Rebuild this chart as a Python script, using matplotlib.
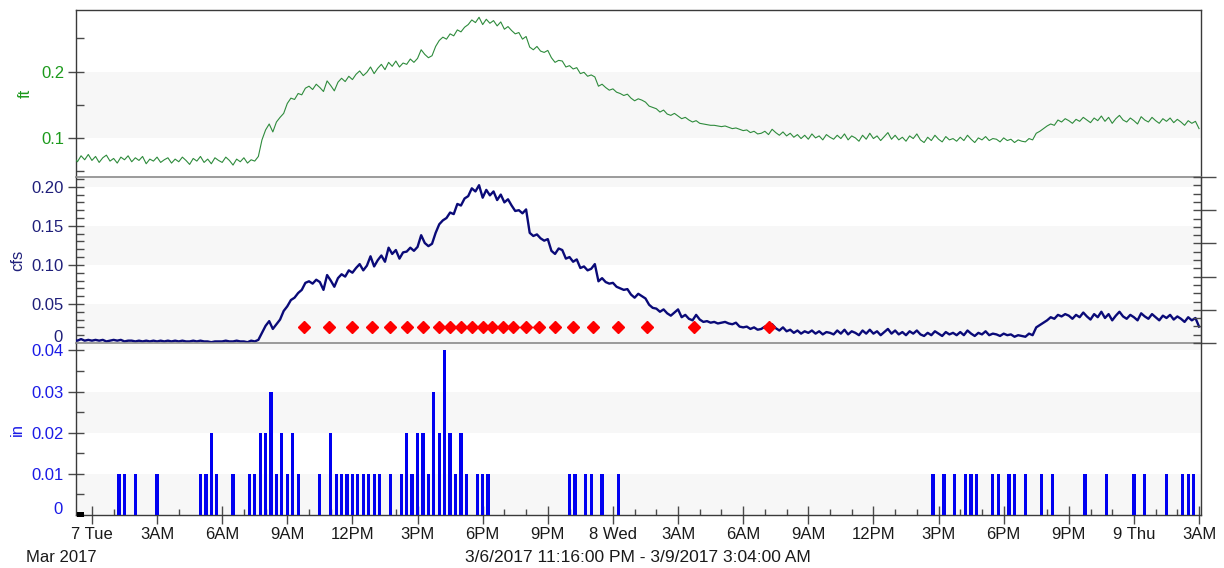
import matplotlib
matplotlib.use("Agg")
import matplotlib.pyplot as plt
import matplotlib.dates as mdates
from matplotlib.ticker import FixedLocator, MultipleLocator, FuncFormatter, NullFormatter
from matplotlib.patches import Rectangle
import pandas as pd

plt.rcParams['font.family'] = ['Liberation Sans', 'DejaVu Sans']
plt.rcParams['font.size'] = 12

# ---- data -------------------------------------------------------------
record_start = "2017-03-06 23:10"      # 10-minute record
view_start = "2017-03-06 23:16"
view_end = "2017-03-09 03:04"

# stage, one row per two hours (first row: 23:10-23:50)
stage_ft = [
    0.071, 0.064, 0.073, 0.067, 0.075,
    0.066, 0.072, 0.063, 0.070, 0.074, 0.065, 0.069, 0.062, 0.071, 0.067, 0.073, 0.064,
    0.070, 0.066, 0.072, 0.061, 0.068, 0.065, 0.071, 0.063, 0.067, 0.070, 0.062, 0.068,
    0.064, 0.071, 0.066, 0.060, 0.069, 0.065, 0.072, 0.063, 0.068, 0.061, 0.070, 0.066,
    0.063, 0.071, 0.066, 0.059, 0.068, 0.064, 0.070, 0.062, 0.067, 0.065, 0.072, 0.097,
    0.112, 0.121, 0.109, 0.124, 0.131, 0.137, 0.152, 0.160, 0.158, 0.167, 0.165, 0.175,
    0.178, 0.173, 0.181, 0.176, 0.170, 0.186, 0.179, 0.171, 0.184, 0.190, 0.185, 0.193,
    0.188, 0.196, 0.201, 0.194, 0.199, 0.207, 0.197, 0.205, 0.211, 0.203, 0.214, 0.208,
    0.216, 0.207, 0.213, 0.211, 0.219, 0.214, 0.220, 0.233, 0.226, 0.221, 0.224, 0.238,
    0.247, 0.252, 0.249, 0.257, 0.254, 0.263, 0.260, 0.267, 0.271, 0.278, 0.274, 0.282,
    0.271, 0.279, 0.273, 0.277, 0.269, 0.275, 0.264, 0.268, 0.262, 0.257, 0.259, 0.249,
    0.253, 0.237, 0.233, 0.238, 0.231, 0.229, 0.232, 0.221, 0.214, 0.217, 0.216, 0.207,
    0.209, 0.204, 0.206, 0.197, 0.199, 0.193, 0.195, 0.192, 0.178, 0.181, 0.176, 0.172,
    0.174, 0.169, 0.167, 0.164, 0.166, 0.160, 0.156, 0.159, 0.157, 0.154, 0.148, 0.146,
    0.144, 0.139, 0.142, 0.136, 0.134, 0.137, 0.133, 0.129, 0.131, 0.127, 0.124, 0.126,
    0.122, 0.121, 0.120, 0.119, 0.119, 0.118, 0.117, 0.118, 0.116, 0.114, 0.115, 0.113,
    0.111, 0.112, 0.108, 0.110, 0.106, 0.107, 0.110, 0.105, 0.113, 0.108, 0.104, 0.109,
    0.103, 0.107, 0.101, 0.105, 0.099, 0.104, 0.098, 0.106, 0.100, 0.103, 0.097, 0.105,
    0.101, 0.098, 0.104, 0.099, 0.106, 0.097, 0.103, 0.100, 0.095, 0.104, 0.098, 0.107,
    0.099, 0.103, 0.096, 0.102, 0.108, 0.098, 0.104, 0.097, 0.101, 0.095, 0.103, 0.099,
    0.106, 0.097, 0.093, 0.101, 0.096, 0.104, 0.098, 0.094, 0.102, 0.097, 0.099, 0.095,
    0.101, 0.096, 0.104, 0.098, 0.093, 0.100, 0.097, 0.102, 0.096, 0.099, 0.098, 0.094,
    0.100, 0.096, 0.098, 0.093, 0.097, 0.095, 0.094, 0.099, 0.097, 0.107, 0.110, 0.114,
    0.118, 0.121, 0.119, 0.127, 0.124, 0.129, 0.126, 0.122, 0.128, 0.125, 0.131, 0.127,
    0.123, 0.130, 0.126, 0.133, 0.125, 0.131, 0.122, 0.129, 0.134, 0.127, 0.124, 0.130,
    0.126, 0.121, 0.132, 0.127, 0.124, 0.131, 0.126, 0.122, 0.129, 0.125, 0.130, 0.123,
    0.128, 0.124, 0.119, 0.126, 0.122, 0.125, 0.114,
]

# discharge on the same 10-minute steps
discharge_cfs = [
    0.004, 0.003, 0.005, 0.003, 0.004,
    0.003, 0.004, 0.003, 0.004, 0.002, 0.003, 0.004, 0.003, 0.004, 0.002, 0.003, 0.003,
    0.002, 0.003, 0.002, 0.003, 0.002, 0.003, 0.002, 0.003, 0.002, 0.003, 0.002, 0.003,
    0.002, 0.003, 0.002, 0.002, 0.003, 0.002, 0.003, 0.002, 0.002, 0.001, 0.002, 0.002,
    0.002, 0.003, 0.002, 0.002, 0.003, 0.002, 0.002, 0.001, 0.003, 0.002, 0.004, 0.013,
    0.022, 0.028, 0.018, 0.024, 0.030, 0.041, 0.047, 0.055, 0.058, 0.064, 0.068, 0.077,
    0.079, 0.076, 0.081, 0.078, 0.068, 0.087, 0.080, 0.072, 0.083, 0.088, 0.085, 0.093,
    0.090, 0.096, 0.101, 0.093, 0.099, 0.111, 0.098, 0.106, 0.112, 0.104, 0.122, 0.114,
    0.119, 0.108, 0.116, 0.117, 0.122, 0.118, 0.123, 0.138, 0.128, 0.124, 0.127, 0.141,
    0.152, 0.157, 0.160, 0.167, 0.165, 0.178, 0.176, 0.185, 0.188, 0.198, 0.194, 0.202,
    0.186, 0.196, 0.189, 0.194, 0.183, 0.190, 0.180, 0.184, 0.176, 0.169, 0.170, 0.166,
    0.171, 0.141, 0.137, 0.139, 0.134, 0.131, 0.133, 0.118, 0.114, 0.121, 0.119, 0.108,
    0.110, 0.104, 0.107, 0.096, 0.098, 0.093, 0.095, 0.101, 0.079, 0.083, 0.078, 0.076,
    0.077, 0.072, 0.070, 0.068, 0.069, 0.062, 0.058, 0.063, 0.060, 0.057, 0.049, 0.045,
    0.044, 0.040, 0.043, 0.038, 0.035, 0.039, 0.043, 0.033, 0.036, 0.031, 0.029, 0.036,
    0.030, 0.027, 0.028, 0.026, 0.027, 0.025, 0.026, 0.027, 0.025, 0.024, 0.026, 0.021,
    0.020, 0.021, 0.018, 0.020, 0.017, 0.018, 0.021, 0.017, 0.024, 0.019, 0.016, 0.020,
    0.015, 0.017, 0.013, 0.016, 0.012, 0.015, 0.013, 0.016, 0.012, 0.015, 0.011, 0.014,
    0.013, 0.011, 0.016, 0.012, 0.017, 0.011, 0.015, 0.013, 0.010, 0.016, 0.012, 0.017,
    0.012, 0.015, 0.010, 0.014, 0.018, 0.012, 0.016, 0.011, 0.014, 0.010, 0.015, 0.012,
    0.016, 0.011, 0.009, 0.013, 0.010, 0.015, 0.012, 0.009, 0.014, 0.011, 0.013, 0.010,
    0.014, 0.010, 0.016, 0.012, 0.009, 0.013, 0.011, 0.015, 0.010, 0.012, 0.011, 0.009,
    0.012, 0.010, 0.011, 0.008, 0.010, 0.009, 0.008, 0.012, 0.010, 0.020, 0.023, 0.026,
    0.029, 0.033, 0.031, 0.036, 0.034, 0.037, 0.035, 0.031, 0.036, 0.033, 0.039, 0.034,
    0.030, 0.037, 0.033, 0.040, 0.032, 0.037, 0.029, 0.035, 0.040, 0.034, 0.031, 0.036,
    0.033, 0.029, 0.038, 0.034, 0.031, 0.037, 0.033, 0.029, 0.035, 0.032, 0.036, 0.030,
    0.034, 0.031, 0.027, 0.033, 0.029, 0.032, 0.021,
]

sample_time = [
    "2017-03-07 09:45", "2017-03-07 10:55", "2017-03-07 12:00", "2017-03-07 12:55",
    "2017-03-07 13:45", "2017-03-07 14:30", "2017-03-07 15:15", "2017-03-07 16:00",
    "2017-03-07 16:30", "2017-03-07 17:00", "2017-03-07 17:30", "2017-03-07 18:00",
    "2017-03-07 18:25", "2017-03-07 18:55", "2017-03-07 19:25", "2017-03-07 20:00",
    "2017-03-07 20:35", "2017-03-07 21:20", "2017-03-07 22:10", "2017-03-07 23:05",
    "2017-03-08 00:15", "2017-03-08 01:35", "2017-03-08 03:45", "2017-03-08 07:10",
]
sample_cfs = [0.02] * len(sample_time)

rain_time = [
    "2017-03-07 01:15", "2017-03-07 01:30", "2017-03-07 02:00", "2017-03-07 03:00",
    "2017-03-07 05:00", "2017-03-07 05:15", "2017-03-07 05:30", "2017-03-07 05:45",
    "2017-03-07 06:30", "2017-03-07 07:15", "2017-03-07 07:30", "2017-03-07 07:45",
    "2017-03-07 08:00", "2017-03-07 08:15", "2017-03-07 08:30", "2017-03-07 08:45",
    "2017-03-07 09:00", "2017-03-07 09:15", "2017-03-07 09:30", "2017-03-07 10:30",
    "2017-03-07 11:00", "2017-03-07 11:15", "2017-03-07 11:30", "2017-03-07 11:45",
    "2017-03-07 12:00", "2017-03-07 12:15", "2017-03-07 12:30", "2017-03-07 12:45",
    "2017-03-07 13:00", "2017-03-07 13:15", "2017-03-07 13:45", "2017-03-07 14:15",
    "2017-03-07 14:30", "2017-03-07 14:45", "2017-03-07 15:00", "2017-03-07 15:15",
    "2017-03-07 15:30", "2017-03-07 15:45", "2017-03-07 16:00", "2017-03-07 16:15",
    "2017-03-07 16:30", "2017-03-07 16:45", "2017-03-07 17:00", "2017-03-07 17:15",
    "2017-03-07 17:45", "2017-03-07 18:00", "2017-03-07 18:15", "2017-03-07 22:00",
    "2017-03-07 22:15", "2017-03-07 22:45", "2017-03-07 23:00", "2017-03-07 23:30",
    "2017-03-08 00:15", "2017-03-08 14:45", "2017-03-08 15:15", "2017-03-08 15:45",
    "2017-03-08 16:15", "2017-03-08 16:30", "2017-03-08 16:45", "2017-03-08 17:30",
    "2017-03-08 17:45", "2017-03-08 18:15", "2017-03-08 18:30", "2017-03-08 19:00",
    "2017-03-08 19:45", "2017-03-08 20:15", "2017-03-08 21:45", "2017-03-08 22:45",
    "2017-03-09 00:00", "2017-03-09 00:30", "2017-03-09 01:30", "2017-03-09 02:15",
    "2017-03-09 02:30", "2017-03-09 02:45",
]
rain_in = [
    0.01, 0.01, 0.01, 0.01,
    0.01, 0.01, 0.02, 0.01,
    0.01, 0.01, 0.01, 0.02,
    0.02, 0.03, 0.01, 0.02,
    0.01, 0.02, 0.01, 0.01,
    0.02, 0.01, 0.01, 0.01,
    0.01, 0.01, 0.01, 0.01,
    0.01, 0.01, 0.01, 0.01,
    0.02, 0.01, 0.02, 0.02,
    0.01, 0.03, 0.02, 0.04,
    0.02, 0.01, 0.02, 0.01,
    0.01, 0.01, 0.01, 0.01,
    0.01, 0.01, 0.01, 0.01,
    0.01, 0.01, 0.01, 0.01,
    0.01, 0.01, 0.01, 0.01,
    0.01, 0.01, 0.01, 0.01,
    0.01, 0.01, 0.01, 0.01,
    0.01, 0.01, 0.01, 0.01,
    0.01, 0.01,
]

stage_ticks = [0.1, 0.2]
flow_ticks = [0.05, 0.10, 0.15, 0.20]
rain_ticks = [0.01, 0.02, 0.03, 0.04]

# ---- styling ----------------------------------------------------------
W, H = 1224, 568
DPI = 100
PT = 72.0 / DPI          # points per pixel

GREEN_LINE = "#2e8b3c"
GREEN_TEXT = "#1c9a1c"
NAVY = "#0a0a78"
NAVY_TEXT = "#1f1f7a"
BLUE = "#0000f0"
BLUE_TEXT = "#1a1ae6"
BAND = "#f7f7f7"
FRAME = "#3a3a3a"
SEP = "#8a8a8a"
TICK = "#4a4a4a"

t_stage = pd.date_range(record_start, periods=len(stage_ft), freq="10min")
t_flow = pd.date_range(record_start, periods=len(discharge_cfs), freq="10min")
t_sample = pd.to_datetime(sample_time)
t_rain = pd.to_datetime(rain_time)
x0, x1 = pd.Timestamp(view_start), pd.Timestamp(view_end)


def rect(top, bottom, left=76, right=1200.5):
    return [left / W, 1 - bottom / H, (right - left) / W, (bottom - top) / H]


fig = plt.figure(figsize=(W / DPI, H / DPI), dpi=DPI)
ax_st = fig.add_axes(rect(10, 177))
ax_q = fig.add_axes(rect(177, 343), sharex=ax_st)
ax_r = fig.add_axes(rect(343, 515), sharex=ax_st)

# alternating light bands
ax_st.axhspan(0.1, 0.2, color=BAND, zorder=0, lw=0)
for lo, hi in [(0.0, 0.05), (0.10, 0.15), (0.20, 0.3)]:
    ax_q.axhspan(lo, hi, color=BAND, zorder=0, lw=0)
for lo, hi in [(0.0, 0.01), (0.02, 0.03), (0.04, 0.05)]:
    ax_r.axhspan(lo, hi, color=BAND, zorder=0, lw=0)

# series
ax_st.plot(t_stage, stage_ft, color=GREEN_LINE, lw=0.8, zorder=3)
ax_q.plot(t_flow, discharge_cfs, color=NAVY, lw=1.7, zorder=3)
ax_q.plot(t_sample, sample_cfs, ls="none", marker="D", ms=6.2, color="#ff0000",
          mec="#ff0000", zorder=4)
ax_r.bar(t_rain, rain_in, width=9 / 1440, color=BLUE, align="center", zorder=3, lw=0)

# frames
for ax in (ax_st, ax_q, ax_r):
    for s in ax.spines.values():
        s.set_color(FRAME)
        s.set_linewidth(1.0)
ax_st.spines["bottom"].set_visible(False)
ax_q.spines["top"].set_color(SEP)
ax_q.spines["bottom"].set_visible(False)
ax_r.spines["top"].set_color(SEP)
ax_q.spines["top"].set_linewidth(1.2)
ax_r.spines["top"].set_linewidth(1.2)

# y axes
def two_dec(v, pos):
    return f"{v:.2f}"

for ax, major, minor, fmt, col in [
    (ax_st, stage_ticks, [0.05, 0.15, 0.25], lambda v, p: f"{v:.1f}", GREEN_TEXT),
    (ax_q, flow_ticks, [i / 100 for i in range(0, 22)], two_dec, NAVY_TEXT),
    (ax_r, rain_ticks, [i / 200 for i in range(0, 9)], two_dec, BLUE_TEXT),
]:
    ax.yaxis.set_major_locator(FixedLocator(major))
    ax.yaxis.set_minor_locator(FixedLocator(minor))
    ax.yaxis.set_major_formatter(FuncFormatter(fmt))
    ax.tick_params(axis="y", which="major", direction="inout", length=16 * PT,
                   width=1, color=TICK, pad=4 * PT, labelcolor=col, labelsize=12)
    ax.tick_params(axis="y", which="minor", direction="in", length=8 * PT,
                   width=1, color=TICK)

# zero labels sit just above the baseline of their panel
for ax, col in [(ax_q, NAVY_TEXT), (ax_r, BLUE_TEXT)]:
    ax.annotate("0", xy=(0, 0), xycoords=ax.get_yaxis_transform(),
                xytext=(-13 * PT, 1.5 * PT), textcoords="offset points",
                ha="right", va="baseline", color=col, fontsize=12)

ax_st.set_ylim(0.041, 0.293)
ax_q.set_ylim(0.0, 0.2125)
ax_r.set_ylim(0.0, 0.0418)

ax_st.set_ylabel("ft", color=GREEN_TEXT, fontsize=12)
ax_q.set_ylabel("cfs", color=NAVY_TEXT, fontsize=12)
ax_r.set_ylabel("in", color=BLUE_TEXT, fontsize=12)
ax_st.yaxis.set_label_coords((33 - 76) / 1124.5, 0.5)
ax_q.yaxis.set_label_coords((25 - 76) / 1124.5, 0.5)
ax_r.yaxis.set_label_coords((25 - 76) / 1124.5, 0.5)

# right-hand scale on the discharge panel
ax_q2 = ax_q.twinx()
ax_q2.set_ylim(0, 5)
for s in ("left", "top", "bottom"):
    ax_q2.spines[s].set_visible(False)
ax_q2.spines["right"].set_color(FRAME)
ax_q2.yaxis.set_major_locator(MultipleLocator(1))
ax_q2.yaxis.set_minor_locator(MultipleLocator(0.25))
ax_q2.yaxis.remove_overlapping_locs = False
ax_q2.yaxis.set_major_formatter(NullFormatter())
ax_q2.tick_params(axis="y", which="major", direction="out", length=15 * PT,
                  width=1, color=TICK)
ax_q2.tick_params(axis="y", which="minor", direction="in", length=8 * PT,
                  width=1, color=TICK)

# time axis
def time_label(v, pos):
    d = mdates.num2date(v)
    if d.hour == 0:
        return f"{d.day} {d.strftime('%a')}"
    h = d.hour % 12 or 12
    return f"{h}{'AM' if d.hour < 12 else 'PM'}"

ax_r.xaxis.set_major_locator(mdates.HourLocator(byhour=range(0, 24, 3)))
ax_r.xaxis.set_minor_locator(mdates.HourLocator())
ax_r.xaxis.set_major_formatter(FuncFormatter(time_label))
ax_r.tick_params(axis="x", which="major", direction="inout", length=18 * PT,
                 width=1, color=TICK, pad=3 * PT, labelsize=12, labelcolor="#1a1a1a")
ax_r.tick_params(axis="x", which="minor", direction="in", length=6 * PT,
                 width=1, color=TICK)
for ax in (ax_st, ax_q):
    ax.tick_params(axis="x", which="both", bottom=False, labelbottom=False)
ax_st.set_xlim(x0, x1)

fig.text(26 / W, 1 - 562 / H, "Mar 2017", ha="left", va="baseline",
         fontsize=12, color="#1a1a1a")
fig.text((76 + 1200.5) / 2 / W, 1 - 562 / H,
         "3/6/2017 11:16:00 PM - 3/9/2017 3:04:00 AM",
         ha="center", va="baseline", fontsize=12.5, color="#1a1a1a")

# small origin marker
fig.add_artist(Rectangle((77 / W, 1 - 517 / H), 7 / W, 5 / H,
                         transform=fig.transFigure, color="black", lw=0))

fig.savefig("out.png", dpi=DPI)
